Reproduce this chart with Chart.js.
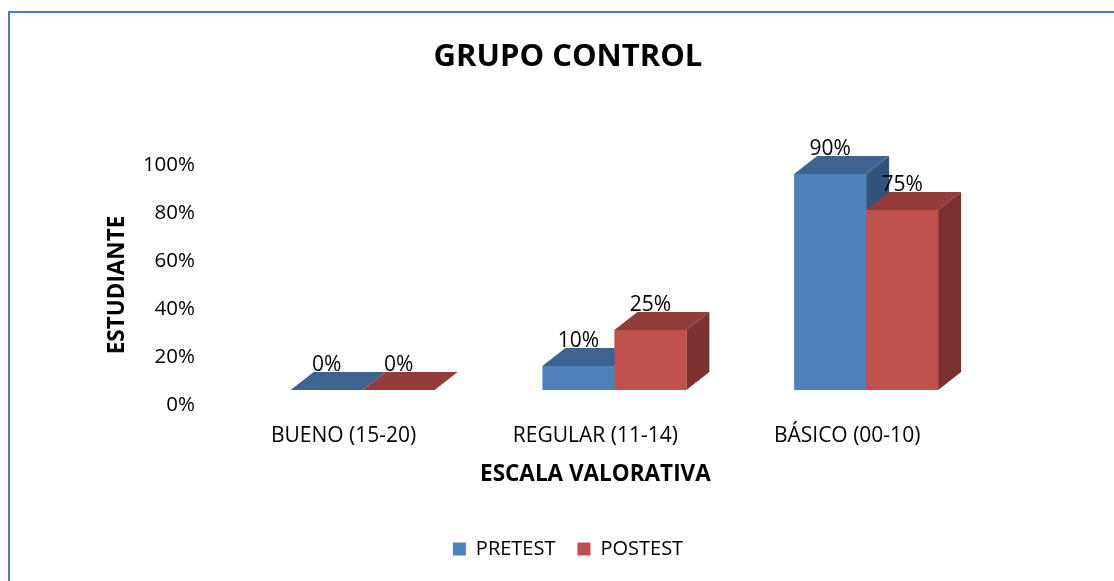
<!DOCTYPE html>
<html>
<head>
<meta charset="utf-8">
<script src="https://cdn.jsdelivr.net/npm/chart.js@4/dist/chart.umd.min.js"></script>
<style>
  html, body { margin: 0; padding: 0; background: #fff; }
  canvas { display: block; }
</style>
</head>
<body>
<canvas id="c" width="1114" height="581"></canvas>
<script>
const categories = ['BUENO (15-20)', 'REGULAR (11-14)', 'BÁSICO (00-10)'];
const seriesNames = ['PRETEST', 'POSTEST'];
const pretest = [0, 10, 90];
const postest = [0, 25, 75];
const chartTitle = 'GRUPO CONTROL';
const xTitle = 'ESCALA VALORATIVA';
const yTitle = 'ESTUDIANTE';

const frontColors = ['#4F81BD', '#C0504D'];
const topColors = ['#3D6391', '#933D3B'];
const sideColors = ['#32537A', '#7C302F'];

const FONT = "'Open Sans', 'DejaVu Sans', sans-serif";
const DX = 23, DY = -18;      // 3D depth offset
const SHIFT_X = 19, SHIFT_Y = -15; // front-plane offset from axis plane

const frame = {
  id: 'frame',
  beforeDraw(chart) {
    const ctx = chart.ctx;
    ctx.save();
    ctx.fillStyle = '#4A7EBB';
    ctx.fillRect(8, 11, 2, chart.height - 11);
    ctx.fillRect(8, 11, chart.width - 8, 2);
    ctx.restore();
  }
};

const bar3d = {
  id: 'bar3d',
  beforeDatasetsDraw(chart) {
    const ctx = chart.ctx;
    ctx.save();
    ctx.translate(SHIFT_X, SHIFT_Y);
    const n = chart.data.labels.length;
    for (let i = 0; i < n; i++) {
      chart.data.datasets.forEach((ds, di) => {
        const el = chart.getDatasetMeta(di).data[i];
        const p = el.getProps(['x', 'y', 'base', 'width'], true);
        const l = p.x - p.width / 2, r = p.x + p.width / 2;
        ctx.fillStyle = sideColors[di];
        ctx.beginPath();
        ctx.moveTo(r, p.y); ctx.lineTo(r + DX, p.y + DY);
        ctx.lineTo(r + DX, p.base + DY); ctx.lineTo(r, p.base);
        ctx.closePath(); ctx.fill();
        ctx.fillStyle = topColors[di];
        ctx.beginPath();
        ctx.moveTo(l, p.y); ctx.lineTo(l + DX, p.y + DY);
        ctx.lineTo(r + DX, p.y + DY); ctx.lineTo(r, p.y);
        ctx.closePath(); ctx.fill();
      });
    }
  },
  afterDatasetsDraw(chart) {
    const ctx = chart.ctx;
    ctx.fillStyle = '#000';
    ctx.font = '21px ' + FONT;
    ctx.textAlign = 'center';
    ctx.textBaseline = 'middle';
    chart.data.datasets.forEach((ds, di) => {
      chart.getDatasetMeta(di).data.forEach((el, i) => {
        const p = el.getProps(['x', 'y'], true);
        ctx.fillText(ds.data[i] + '%', p.x, p.y + DY - 7);
      });
    });
    ctx.restore();
  }
};

new Chart(document.getElementById('c'), {
  type: 'bar',
  data: {
    labels: categories,
    datasets: [
      { label: seriesNames[0], data: pretest, backgroundColor: frontColors[0] },
      { label: seriesNames[1], data: postest, backgroundColor: frontColors[1] }
    ]
  },
  options: {
    responsive: false,
    animation: false,
    devicePixelRatio: 1,
    layout: { padding: { left: 22, right: 0, top: 0, bottom: 12 } },
    datasets: { bar: { categoryPercentage: 0.572, barPercentage: 1.0 } },
    plugins: {
      tooltip: { enabled: false },
      title: {
        display: true,
        text: chartTitle,
        color: '#000',
        font: { family: FONT, size: 31, weight: 'bold', lineHeight: 1.2 },
        padding: { top: 38.4, bottom: 89.4 }
      },
      legend: {
        position: 'bottom',
        labels: {
          color: '#000',
          font: { family: FONT, size: 20 },
          boxWidth: 13, boxHeight: 13,
          padding: 22
        }
      }
    },
    scales: {
      x: {
        grid: { display: false, drawTicks: false },
        border: { display: false },
        ticks: { color: '#000', font: { family: FONT, size: 21 }, padding: 18, maxRotation: 0 },
        title: {
          display: true, text: xTitle, color: '#000',
          font: { family: FONT, size: 22.5, weight: 'bold', lineHeight: 1.2 },
          padding: { top: 0, bottom: 28.5 }
        },
        afterFit(s) { s.height = 112; }
      },
      y: {
        min: 0, max: 100,
        grid: { display: false, drawTicks: false },
        border: { display: false },
        ticks: {
          stepSize: 20, color: '#000', padding: 22.75,
          font: { family: FONT, size: 20.5 },
          callback: v => v + '%'
        },
        title: {
          display: true, text: yTitle, color: '#000',
          font: { family: FONT, size: 22.5, weight: 'bold', lineHeight: 1.2 },
          padding: { top: 82.5, bottom: 0 }
        },
        afterFit(s) { s.width = 195.75; }
      },
      yR: {
        position: 'right',
        display: true,
        grid: { display: false, drawTicks: false },
        border: { display: false },
        ticks: { display: false },
        afterFit(s) { s.width = 141; }
      }
    }
  },
  plugins: [frame, bar3d]
});
</script>
</body>
</html>
